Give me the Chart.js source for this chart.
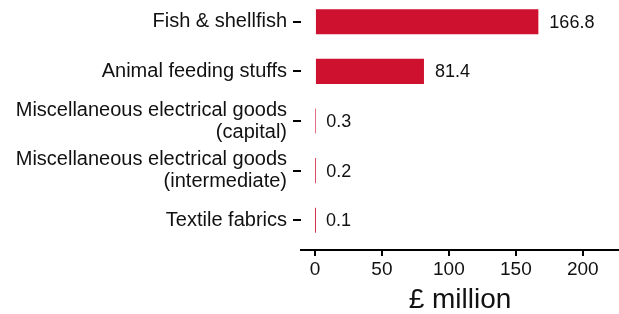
<!DOCTYPE html>
<html>
<head>
<meta charset="utf-8">
<script src="https://cdn.jsdelivr.net/npm/chart.js@4/dist/chart.umd.min.js"></script>
<style>
  html, body { margin: 0; padding: 0; background: #fff; overflow: hidden; }
  #wrap { position: absolute; left: 0; top: -8px; width: 619px; height: 322px; }
</style>
</head>
<body>
<div id="wrap"><canvas id="chart" width="619" height="322"></canvas></div>
<script>
const categories = [
    "Fish & shellfish",
    "Animal feeding stuffs",
    ["Miscellaneous electrical goods", "(capital)"],
    ["Miscellaneous electrical goods", "(intermediate)"],
    "Textile fabrics"
];
const values = [166.8, 81.4, 0.3, 0.2, 0.1];
const xTicks = [0, 50, 100, 150, 200];

const FONT = "'Liberation Sans', Arial, sans-serif";
const INK = "#111";

// value text drawn just past the end of each bar
const valueLabels = {
    id: "valueLabels",
    afterDatasetsDraw(chart) {
        const ctx = chart.ctx;
        const meta = chart.getDatasetMeta(0);
        ctx.save();
        ctx.font = "18px " + FONT;
        ctx.fillStyle = INK;
        ctx.textAlign = "left";
        ctx.textBaseline = "middle";
        meta.data.forEach((bar, i) => {
            ctx.fillText(values[i].toFixed(1), bar.x + 11, bar.y + 1);
        });
        ctx.restore();
    }
};

new Chart(document.getElementById("chart").getContext("2d"), {
    type: "bar",
    data: {
        datasets: [{
            data: values.map((v, i) => ({ x: v, y: i })),
            backgroundColor: "#CF1130",
            borderColor: "#CF1130",
            borderWidth: 0,
            barPercentage: 0.505,
            categoryPercentage: 1
        }]
    },
    options: {
        indexAxis: "y",
        responsive: false,
        animation: false,
        devicePixelRatio: 1,
        layout: { padding: { left: 0, right: 0, top: 0, bottom: 0 } },
        plugins: { legend: { display: false }, tooltip: { enabled: false } },
        scales: {
            x: {
                type: "linear",
                min: -10.4,
                max: 227,
                offset: false,
                afterBuildTicks: scale => { scale.ticks = xTicks.map(v => ({ value: v })); },
                afterFit: scale => { scale.height = 64; scale.paddingLeft = 0; scale.paddingRight = 0; },
                border: { display: true, color: "#000", width: 2 },
                grid: { drawOnChartArea: false, drawTicks: true, tickLength: 6, color: "#000", lineWidth: 2, offset: false },
                ticks: { color: INK, font: { family: FONT, size: 19 }, padding: 2, maxRotation: 0 },
                title: {
                    display: true,
                    text: "£ million",
                    color: INK,
                    font: { family: FONT, size: 28, lineHeight: 1.0 },
                    padding: { top: 0, bottom: 0 }
                }
            },
            y: {
                type: "linear",
                reverse: true,
                min: -0.6,
                max: 4.6,
                offset: false,
                afterBuildTicks: scale => { scale.ticks = categories.map((c, i) => ({ value: i })); },
                afterFit: scale => { scale.width = 301; scale.paddingTop = 0; scale.paddingBottom = 0; },
                border: { display: false },
                grid: { drawOnChartArea: false, drawTicks: true, tickLength: 8, color: "#000", lineWidth: 2, offset: false },
                ticks: {
                    color: INK,
                    font: { family: FONT, size: 20, lineHeight: 1.1 },
                    padding: 6,
                    callback: v => categories[v]
                }
            }
        }
    },
    plugins: [valueLabels]
});
</script>
</body>
</html>
